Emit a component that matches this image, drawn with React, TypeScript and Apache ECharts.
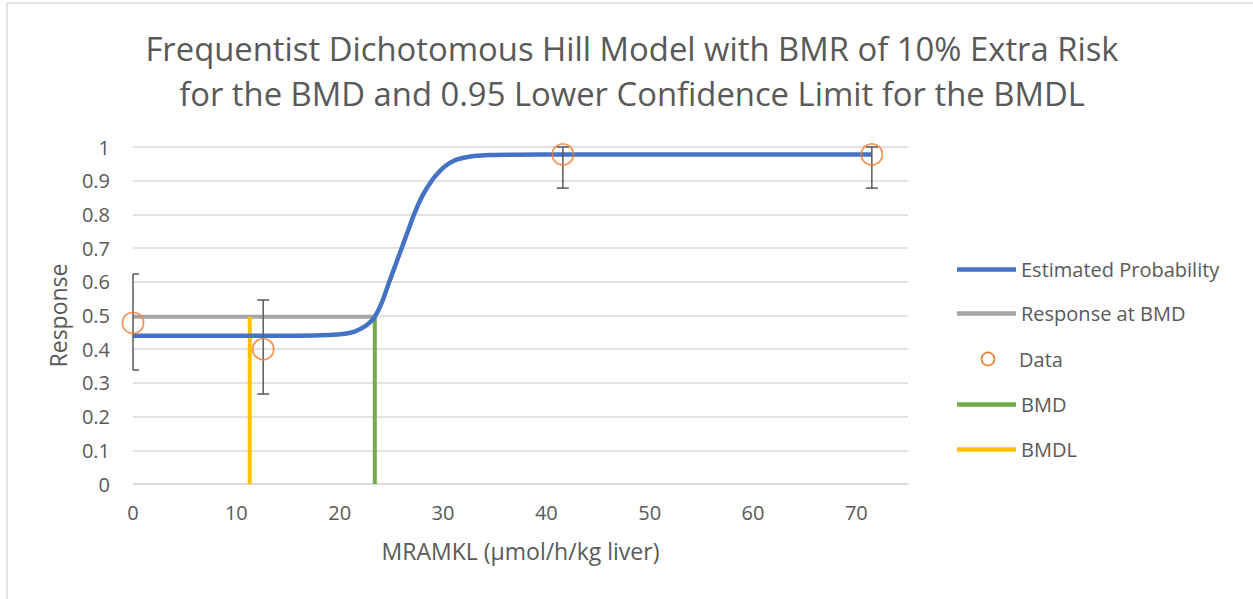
import React, { useEffect, useRef } from "react";
import * as echarts from "echarts";

const titleLines = [
  "Frequentist Dichotomous Hill Model with BMR of 10% Extra Risk",
  "for the BMD and 0.95 Lower Confidence Limit for the BMDL",
];
const xAxisName = "MRAMKL (µmol/h/kg liver)";
const yAxisName = "Response";

// Estimated probability curve
const curveX = [0, 10, 16, 19, 20.5, 21.5, 22.4, 23, 23.4, 24.1, 24.8, 25.4, 26, 26.6, 27.2, 28, 28.9, 29.5, 30.2, 31.1, 32, 33, 34.5, 37, 42, 71.5];
const curveY = [0.44, 0.44, 0.44, 0.442, 0.446, 0.453, 0.467, 0.482, 0.496, 0.54, 0.6, 0.65, 0.7, 0.75, 0.8, 0.855, 0.9, 0.922, 0.943, 0.96, 0.968, 0.973, 0.976, 0.977, 0.978, 0.978];

// Observed data with error bars
const dataX = [0, 12.6, 41.6, 71.5];
const dataY = [0.478, 0.4, 0.978, 0.978];
const errLow = [0.338, 0.267, 0.878, 0.878];
const errHigh = [0.623, 0.546, 1.0, 1.0];

const bmd = 23.4;
const bmdl = 11.3;
const bmr = 0.496;

const seriesNames = ["Estimated Probability", "Response at BMD", "Data", "BMD", "BMDL"];
const legendCenters = [270, 314, 359, 405, 450];

export default function App() {
  const ref = useRef<HTMLDivElement>(null);
  useEffect(() => {
    if (!ref.current) return;
    const chart = echarts.init(ref.current, null, { renderer: "svg" });
    const font = "'Open Sans', sans-serif";
    const txt = "#595959";
    const legendFont = 20;
    const legends = [0, 1, 3, 4].map((i) => ({
      orient: "vertical",
      left: 952,
      top: legendCenters[i] - 15.5,
      itemWidth: 59,
      itemHeight: 4.5,
      textStyle: { color: txt, fontSize: legendFont, fontFamily: font },
      data: [{ name: seriesNames[i], icon: "rect" }],
    }));
    const option: any = {
      animation: false,
      backgroundColor: "#fff",
      textStyle: { fontFamily: font },
      graphic: [
        {
          type: "rect",
          shape: { x: 7, y: 3, width: 1400, height: 800 },
          style: { fill: "none", stroke: "#d9d9d9", lineWidth: 1.5 },
          silent: true,
        },
        {
          type: "text",
          x: 632,
          y: 48,
          style: { text: titleLines[0], fill: txt, font: `32.8px ${font}`, textAlign: "center", textVerticalAlign: "middle" },
        },
        {
          type: "text",
          x: 632,
          y: 93,
          style: { text: titleLines[1], fill: txt, font: `32.8px ${font}`, textAlign: "center", textVerticalAlign: "middle" },
        },
        {
          type: "circle",
          shape: { cx: 988, cy: legendCenters[2], r: 6.5 },
          style: { fill: "none", stroke: "#ed7d31", lineWidth: 1.6 },
        },
        {
          type: "text",
          x: 1019,
          y: legendCenters[2],
          style: { text: seriesNames[2], fill: txt, font: `${legendFont}px ${font}`, textAlign: "left", textVerticalAlign: "middle" },
        },
      ],
      grid: { left: 133, right: 345, top: 147, bottom: 115, containLabel: false },
      legend: legends,
      xAxis: {
        type: "value",
        min: 0,
        max: 75,
        interval: 10,
        name: xAxisName,
        nameLocation: "middle",
        nameGap: 55,
        nameTextStyle: { color: txt, fontSize: 23, fontFamily: font },
        axisLine: { show: true, lineStyle: { color: "#d9d9d9", width: 1.5 } },
        axisTick: { show: false },
        splitLine: { show: false },
        axisLabel: { color: txt, fontSize: 20, margin: 18, fontFamily: font, showMaxLabel: false },
      },
      yAxis: {
        type: "value",
        min: 0,
        max: 1,
        interval: 0.1,
        name: yAxisName,
        nameLocation: "middle",
        nameGap: 64,
        nameTextStyle: { color: txt, fontSize: 23, fontFamily: font },
        axisLine: { show: false },
        axisTick: { show: false },
        splitLine: { show: true, lineStyle: { color: "#d9d9d9", width: 1.5 } },
        axisLabel: {
          color: txt,
          fontSize: 20,
          margin: 23,
          fontFamily: font,
          formatter: (v: number) => String(Math.round(v * 10) / 10),
        },
      },
      series: [
        {
          name: seriesNames[1],
          type: "line",
          symbol: "none",
          data: [[0, bmr], [bmd, bmr]],
          lineStyle: { color: "#a5a5a5", width: 4 },
          itemStyle: { color: "#a5a5a5" },
          z: 2,
        },
        {
          name: seriesNames[3],
          type: "line",
          symbol: "none",
          data: [[bmd, 0], [bmd, bmr]],
          lineStyle: { color: "#70ad47", width: 4 },
          itemStyle: { color: "#70ad47" },
          z: 2,
        },
        {
          name: seriesNames[4],
          type: "line",
          symbol: "none",
          data: [[bmdl, 0], [bmdl, bmr]],
          lineStyle: { color: "#ffc000", width: 4 },
          itemStyle: { color: "#ffc000" },
          z: 2,
        },
        {
          name: seriesNames[0],
          type: "line",
          symbol: "none",
          smooth: 0.3,
          data: curveX.map((x, i) => [x, curveY[i]]),
          lineStyle: { color: "#4472c4", width: 4.5 },
          itemStyle: { color: "#4472c4" },
          z: 3,
        },
        {
          name: "err",
          type: "custom",
          data: dataX.map((x, i) => [x, errLow[i], errHigh[i]]),
          clip: false,
          z: 4,
          renderItem: (params: any, api: any) => {
            const x = api.value(0);
            const lo = api.coord([x, api.value(1)]);
            const hi = api.coord([x, api.value(2)]);
            const left = params.coordSys.x;
            const hw = 6;
            const l = Math.max(lo[0] - hw, left);
            const r = lo[0] + hw;
            const style = { stroke: "#595959", lineWidth: 1.5, fill: "none" };
            return {
              type: "group",
              children: [
                { type: "line", shape: { x1: lo[0], y1: lo[1], x2: hi[0], y2: hi[1] }, style },
                { type: "line", shape: { x1: l, y1: lo[1], x2: r, y2: lo[1] }, style },
                { type: "line", shape: { x1: l, y1: hi[1], x2: r, y2: hi[1] }, style },
              ],
            };
          },
        },
        {
          name: seriesNames[2],
          type: "scatter",
          symbol: "circle",
          symbolSize: 21,
          data: dataX.map((x, i) => [x, dataY[i]]),
          itemStyle: { color: "rgba(255,255,255,0)", borderColor: "#ed7d31", borderWidth: 1.8 },
          clip: false,
          z: 5,
        },
      ],
    };
    chart.setOption(option);
    return () => chart.dispose();
  }, []);
  return (
    <div
      ref={ref}
      style={{ position: "fixed", left: 0, top: 0, width: 1253, height: 599 }}
    />
  );
}
